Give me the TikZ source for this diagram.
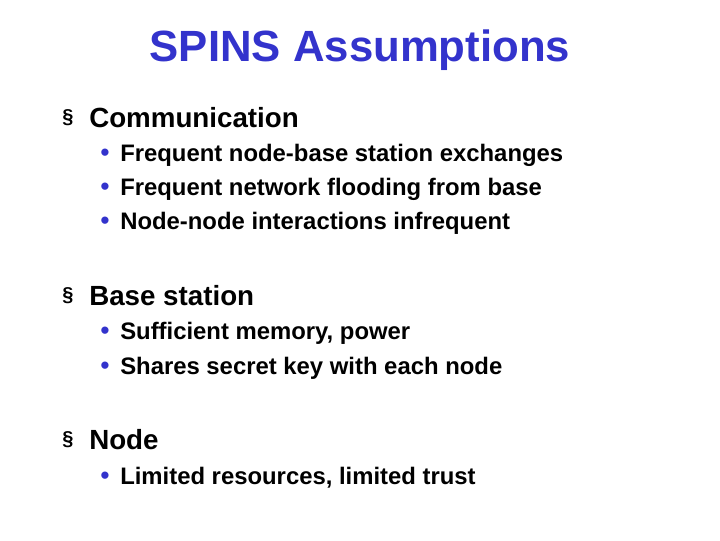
\documentclass[tikz,border=0pt]{standalone}
\usepackage{fontspec}
\setmainfont{Liberation Sans}
\definecolor{ttl}{RGB}{51,51,204}
\begin{document}
\begin{tikzpicture}[x=0.75pt,y=-0.75pt,
 title/.style={font=\bfseries\fontsize{32.8}{36}\selectfont,text=ttl},
 lone/.style={anchor=west,font=\bfseries\fontsize{20.8}{24}\selectfont,inner sep=0},
 ltwo/.style={anchor=west,font=\bfseries\fontsize{17.9}{20}\selectfont,inner sep=0},
 mk/.style={anchor=center,inner sep=0,font=\bfseries\fontsize{15}{18}\selectfont},
 dot/.style={anchor=center,inner sep=0,font=\fontsize{20}{22}\selectfont,text=ttl}]
\useasboundingbox (0,0) rectangle (720,540);
\node[title] (t) at (360,50) {SPINS Assumptions};
\node[mk] (m1) at (68,118) {§};
\node[lone] (a) at (89,118) {Communication};
\node[dot] (d1) at (105,155) {•};
\node[ltwo] (a1) at (120,155) {Frequent node-base station exchanges};
\node[dot] (d2) at (105,189) {•};
\node[ltwo] (a2) at (120,189) {Frequent network flooding from base};
\node[dot] (d3) at (105,223) {•};
\node[ltwo] (a3) at (120,223) {Node-node interactions infrequent};
\node[mk] (m2) at (68,296) {§};
\node[lone] (b) at (89,296) {Base station};
\node[dot] (d4) at (105,333) {•};
\node[ltwo] (b1) at (120,333) {Sufficient memory, power};
\node[dot] (d5) at (105,368) {•};
\node[ltwo] (b2) at (120,368) {Shares secret key with each node};
\node[mk] (m3) at (68,440) {§};
\node[lone] (c) at (89,440) {Node};
\node[dot] (d6) at (105,478) {•};
\node[ltwo] (c1) at (120,478) {Limited resources, limited trust};
\end{tikzpicture}
\end{document}
